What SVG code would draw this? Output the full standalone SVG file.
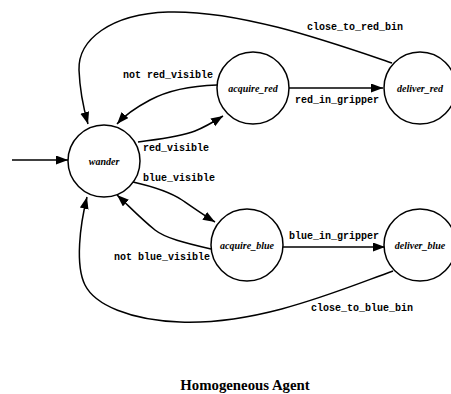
<svg xmlns="http://www.w3.org/2000/svg" width="451" height="394" viewBox="0 0 451 394">
<defs>
<marker id="ah" markerUnits="userSpaceOnUse" markerWidth="13" markerHeight="10" refX="12" refY="4.5" orient="auto">
<path d="M0,0 L12,4.5 L0,9 z" fill="#000"/>
</marker>
<style>
.node circle{fill:#fff;stroke:#000;stroke-width:1.5}
.node text{font-family:"Liberation Serif",serif;font-style:italic;font-weight:bold;font-size:10px;text-anchor:middle}
.edges path{fill:none;stroke:#000;stroke-width:1.5;marker-end:url(#ah)}
.lbl{font-family:"Liberation Mono",monospace;font-weight:bold;font-size:10px}
.title{font-family:"Liberation Serif",serif;font-weight:bold;font-size:14.8px;text-anchor:middle}
</style>
</defs>
<rect width="451" height="394" fill="#fff"/>
<g class="edges">
<path d="M12,160 L68,160"/>
<path d="M392,63 C330,42 240,10 168,12 C110,14 78,40 79,70 C80,95 84,110 88,124"/>
<path d="M217,85 C185,86 165,92 150,100 C135,108 125,115 117,124"/>
<path d="M138,142 C160,139 180,137 195,131 C205,127 215,121 223,116"/>
<path d="M289,88 L383,88"/>
<path d="M133,182 C155,187 170,192 182,200 C195,209 205,216 215,222"/>
<path d="M211,249 C185,243 165,238 155,230 C140,218 128,205 117,195"/>
<path d="M283,247 L385,247"/>
<path d="M393,271 C340,290 260,325 180,322 C130,320 95,305 85,285 C75,265 80,225 87,197"/>
</g>
<g class="labels">
<text class="lbl" x="307" y="30">close_to_red_bin</text>
<text class="lbl" x="123" y="78">not red_visible</text>
<text class="lbl" x="143" y="151">red_visible</text>
<text class="lbl" x="295" y="103">red_in_gripper</text>
<text class="lbl" x="143" y="181">blue_visible</text>
<text class="lbl" x="114" y="260">not blue_visible</text>
<text class="lbl" x="289" y="239">blue_in_gripper</text>
<text class="lbl" x="311" y="311">close_to_blue_bin</text>
</g>
<g id="wander" class="node"><circle cx="104" cy="161" r="36"/><text x="104" y="164.5">wander</text></g>
<g id="acquire_red" class="node"><circle cx="253" cy="88" r="36"/><text x="253" y="91.5">acquire_red</text></g>
<g id="deliver_red" class="node"><circle cx="420" cy="88" r="36"/><text x="420" y="91.5">deliver_red</text></g>
<g id="acquire_blue" class="node"><circle cx="247" cy="245" r="36"/><text x="247" y="248.5">acquire_blue</text></g>
<g id="deliver_blue" class="node"><circle cx="420" cy="245" r="36"/><text x="420" y="248.5">deliver_blue</text></g>
<text class="title" x="245" y="390">Homogeneous Agent</text>
</svg>
